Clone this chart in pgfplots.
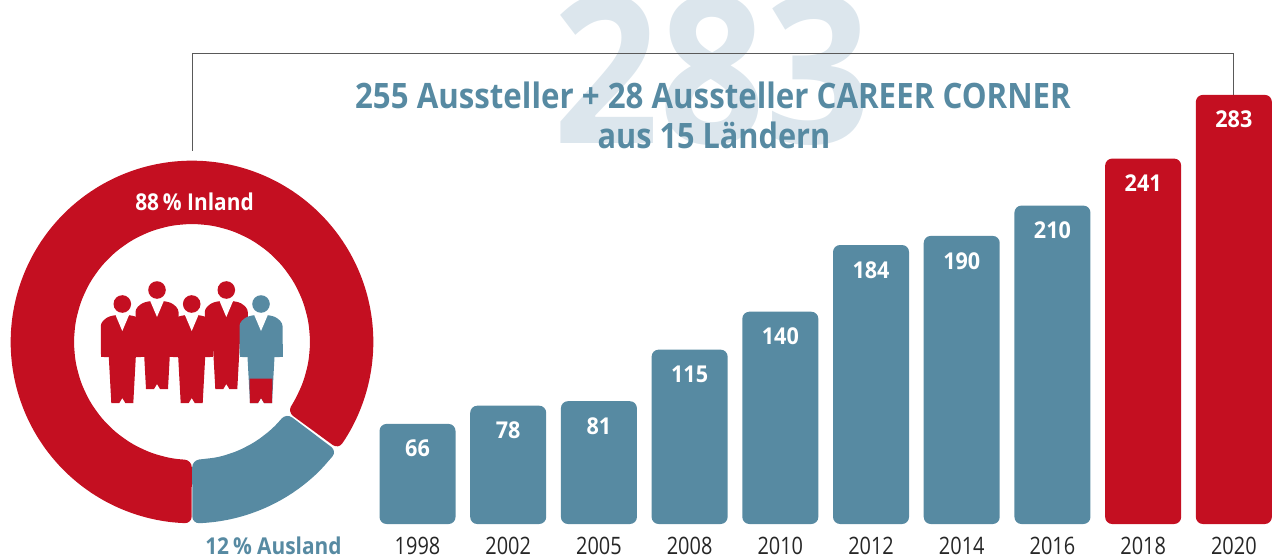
\documentclass[border=0pt]{standalone}
\usepackage{pgfplots}
\usepackage{fontspec}
\pgfplotsset{compat=1.18}
\setmainfont{Open Sans}
\newfontfamily\cond[FakeStretch=0.83]{Open Sans}
\newfontfamily\bcond[FakeStretch=0.90]{Open Sans Bold}
\newfontfamily\ncond[FakeStretch=0.93]{Open Sans Bold}
\newfontfamily\tcond[FakeStretch=0.893]{Open Sans Bold}
\newfontfamily\ucond[FakeStretch=0.877]{Open Sans Bold}
\newfontfamily\wcond[FakeStretch=0.90]{Open Sans Bold}
\definecolor{myblue}{HTML}{578AA2}
\definecolor{myred}{HTML}{C40F21}
\definecolor{wm}{HTML}{DCE6ED}
\newcommand{\person}[3]{%
  \begin{scope}[shift={(#1,#2)}]
  \fill[#3,rounded corners=1.5pt] (-21.5,53)--(-21.5,19)--(-15,13)--(-7,11)--(7,11)--(15,13)--(21.5,19)--(21.5,53)--cycle;
  \fill[#3] (-21.5,40) rectangle (21.5,53);
  \fill[#3] (-15,40)--(15,40)--(13.5,53)--(11,99)--(3,99)--(0,94)--(-3,99)--(-11,99)--(-13.5,53)--cycle;
  \fill[white] (-7,10.5)--(0,27)--(7,10.5)--cycle;
  \fill[#3] (0,0) circle (8.8);
  \end{scope}}
\begin{document}
\begin{tikzpicture}
\useasboundingbox (0,0) rectangle (640pt,279pt);
\clip (0,0) rectangle (640pt,279pt);
% pixel scope (top-left origin), background texts
\begin{scope}[shift={(0,279pt)},x=0.5pt,y=-0.5pt]
\node[anchor=base,text=wm,inner sep=0,font=\wcond\fontsize{103pt}{103pt}\selectfont] at (712.5,143) {283};
\draw[color=black!65,line width=0.5pt] (192.5,151)--(192.5,53.5)--(1233.5,53.5)--(1233.5,100);
\end{scope}
% bars
\begin{axis}[
  at={(0,17pt)},anchor=south west,
  width=640pt,height=262pt,scale only axis,
  xmin=-4.603,xmax=9.509,ymin=0,ymax=345.6,
  clip=false,
  axis x line=bottom,axis y line=none,
  x axis line style={draw=none},
  ytick=\empty,
  xtick={0,...,9},
  xticklabels={1998,2002,2005,2008,2010,2012,2014,2016,2018,2020},
  major tick length=0pt,
  xticklabel style={anchor=base,yshift=-15pt,text=black!85,font=\cond\fontsize{12pt}{12pt}\selectfont},
  ybar=0pt,bar shift=0pt,bar width=38pt,
  nodes near coords,
  /pgf/number format/assume math mode=true,
  nodes near coords style={anchor=center,yshift=-12.4pt,text=white,font=\ncond\fontsize{11.6pt}{11.6pt}\selectfont},
]
\addplot[fill=myblue,draw=none,rounded corners=3.5pt] coordinates {(0,66)(1,78)(2,81)(3,115)(4,140)(5,184)(6,190)(7,210)};
\addplot[fill=myred,draw=none,rounded corners=3.5pt] coordinates {(8,241)(9,283)};
\end{axis}
% donut
\begin{axis}[
  at={(0,0)},anchor=south west,
  width=640pt,height=279pt,scale only axis,
  xmin=-192,xmax=1088,ymin=-216,ymax=342,
  clip=false,axis lines=none,
  data cs=polar,
]
\addplot[fill=myred,draw=none,mark=none,rounded corners=3.5pt] coordinates {
(-36.2,181.5)(-31,181.5)(-26,181.5)(-21,181.5)(-16,181.5)(-11,181.5)(-6,181.5)(-1,181.5)
(4,181.5)(9,181.5)(14,181.5)(19,181.5)(24,181.5)(29,181.5)(34,181.5)(39,181.5)(44,181.5)(49,181.5)(54,181.5)(59,181.5)
(64,181.5)(69,181.5)(74,181.5)(79,181.5)(84,181.5)(89,181.5)(94,181.5)(99,181.5)(104,181.5)(109,181.5)
(114,181.5)(119,181.5)(124,181.5)(129,181.5)(134,181.5)(139,181.5)(144,181.5)(149,181.5)(154,181.5)(159,181.5)
(164,181.5)(169,181.5)(174,181.5)(179,181.5)(184,181.5)(189,181.5)(194,181.5)(199,181.5)(204,181.5)(209,181.5)
(214,181.5)(219,181.5)(224,181.5)(229,181.5)(234,181.5)(239,181.5)(244,181.5)(249,181.5)(254,181.5)(259,181.5)(264,181.5)(269.9,181.5)
(269.9,118.3)(260,118.3)(250,118.3)(240,118.3)(230,118.3)(220,118.3)(210,118.3)(200,118.3)(190,118.3)(180,118.3)
(170,118.3)(160,118.3)(150,118.3)(140,118.3)(130,118.3)(120,118.3)(110,118.3)(100,118.3)(90,118.3)(80,118.3)
(70,118.3)(60,118.3)(50,118.3)(40,118.3)(30,118.3)(20,118.3)(10,118.3)(0,118.3)(-10,118.3)(-20,118.3)(-30,118.3)(-36.2,118.3)
} --cycle;
\addplot[fill=myblue,draw=none,mark=none,rounded corners=3.5pt] coordinates {
(-89.9,181.5)(-85,181.5)(-80,181.5)(-75,181.5)(-70,181.5)(-65,181.5)(-60,181.5)(-55,181.5)(-50,181.5)(-45,181.5)(-37,181.5)
(-37,118.3)(-47,118.3)(-57,118.3)(-67,118.3)(-77,118.3)(-89.9,118.3)
} --cycle;
\end{axis}
% foreground
\begin{scope}[shift={(0,279pt)},x=0.5pt,y=-0.5pt]
\node[anchor=base,text=myblue,inner sep=0,font=\tcond\fontsize{17.5pt}{17.5pt}\selectfont] at (713,108.5) {255 Aussteller + 28 Aussteller CAREER CORNER};
\node[anchor=base,text=myblue,inner sep=0,font=\ucond\fontsize{17.5pt}{17.5pt}\selectfont] at (714,149) {aus 15 Ländern};
\node[anchor=base,text=white,inner sep=0,font=\bcond\fontsize{11.6pt}{11.6pt}\selectfont] at (194.5,210) {88\,\% Inland};
\node[anchor=base,text=myblue,inner sep=0,font=\bcond\fontsize{11.6pt}{11.6pt}\selectfont] at (273.5,554.5) {12\,\% Ausland};
\person{122.3}{304}{myred}
\person{157}{290}{myred}
\person{191.7}{304}{myred}
\person{226.3}{290}{myred}
\person{261}{304}{myblue}
\fill[myred] (249.5,378.5)--(272.5,378.5)--(272,403)--(264,403)--(261,398)--(258,403)--(250,403)--cycle;
\end{scope}
\end{tikzpicture}
\end{document}
